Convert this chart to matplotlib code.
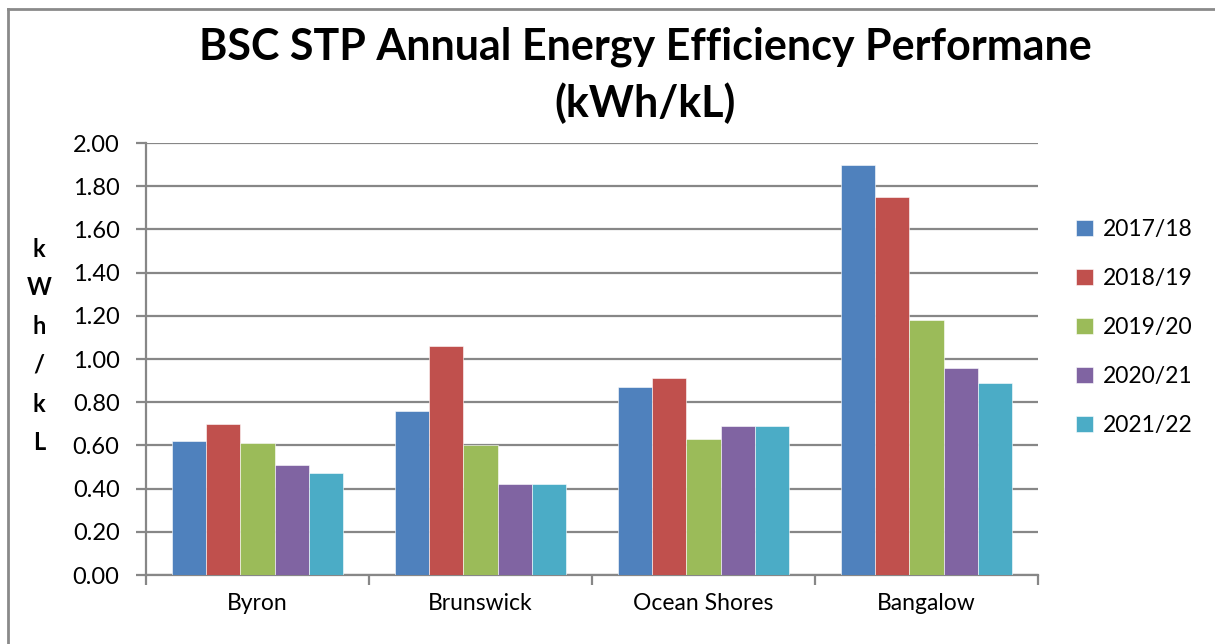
import numpy as np
import matplotlib.pyplot as plt
from matplotlib.lines import Line2D

plt.rcParams['font.family'] = ['Lato', 'DejaVu Sans']

sites = ['Byron', 'Brunswick', 'Ocean Shores', 'Bangalow']
years = ['2017/18', '2018/19', '2019/20', '2020/21', '2021/22']
vals_1718 = [0.62, 0.76, 0.87, 1.90]
vals_1819 = [0.70, 1.06, 0.91, 1.75]
vals_1920 = [0.61, 0.60, 0.63, 1.18]
vals_2021 = [0.51, 0.42, 0.69, 0.96]
vals_2122 = [0.47, 0.42, 0.69, 0.89]
series = [vals_1718, vals_1819, vals_1920, vals_2021, vals_2122]
colors = ['#4F81BD', '#C0504D', '#9BBB59', '#8064A2', '#4BACC6']
yticks = [0.0, 0.2, 0.4, 0.6, 0.8, 1.0, 1.2, 1.4, 1.6, 1.8, 2.0]

W, H = 1215, 644
fig = plt.figure(figsize=(W / 100, H / 100), dpi=100)
ax = fig.add_axes([146 / W, 1 - 575 / H, (1038 - 146) / W, (575 - 143) / H])

grey = '#878787'
x = np.arange(len(sites))
bw = 0.154
for i, (vals, c) in enumerate(zip(series, colors)):
    ax.bar(x + (i - 2) * bw, vals, bw, color=c, edgecolor='white',
           linewidth=0.4, label=years[i], zorder=3)

ax.set_xlim(-0.5, 3.5)
ax.set_ylim(0, 2.0)
ax.set_yticks(yticks)
ax.set_yticklabels([f'{v:.2f}' for v in yticks], fontsize=17)
ax.yaxis.grid(True, color=grey, linewidth=1.6, zorder=0)
ax.set_axisbelow(True)

ax.set_xticks(x)
ax.set_xticklabels(sites, fontsize=16.5)
ax.set_xticks(np.arange(-0.5, 4, 1), minor=True)
ax.tick_params(axis='x', which='major', length=0, pad=13)
ax.tick_params(axis='x', which='minor', length=7, width=1.6, color=grey, direction='out')
ax.tick_params(axis='y', length=7, width=1.6, color=grey, direction='out', pad=12)

for s in ['top', 'right']:
    ax.spines[s].set_visible(False)
for s in ['left', 'bottom']:
    ax.spines[s].set_color(grey)
    ax.spines[s].set_linewidth(1.6)

fig.text(645 / W, 1 - 47 / H, 'BSC STP Annual Energy Efficiency Performane',
         ha='center', va='center', fontsize=31, fontweight='bold')
fig.text(645 / W, 1 - 103 / H, '(kWh/kL)',
         ha='center', va='center', fontsize=31, fontweight='bold')

fig.text(39 / W, 1 - 346 / H, '\n'.join('kWh/kL'), ha='center', va='center',
         fontsize=17, fontweight='bold', linespacing=1.83)

ax.legend(loc='center left', bbox_to_anchor=(1.02, 0.572), frameon=False,
          fontsize=16.5, handlelength=0.7, handleheight=0.7, handletextpad=0.45,
          labelspacing=1.22)

# chart border (left and top edges visible)
fig.add_artist(Line2D([7.5 / W, 7.5 / W], [0, 1 - 8.5 / H], transform=fig.transFigure,
                      color='#8a8a8a', linewidth=2))
fig.add_artist(Line2D([7.5 / W, 1], [1 - 8.5 / H, 1 - 8.5 / H], transform=fig.transFigure,
                      color='#8a8a8a', linewidth=2))

fig.savefig('out.png', dpi=100)
